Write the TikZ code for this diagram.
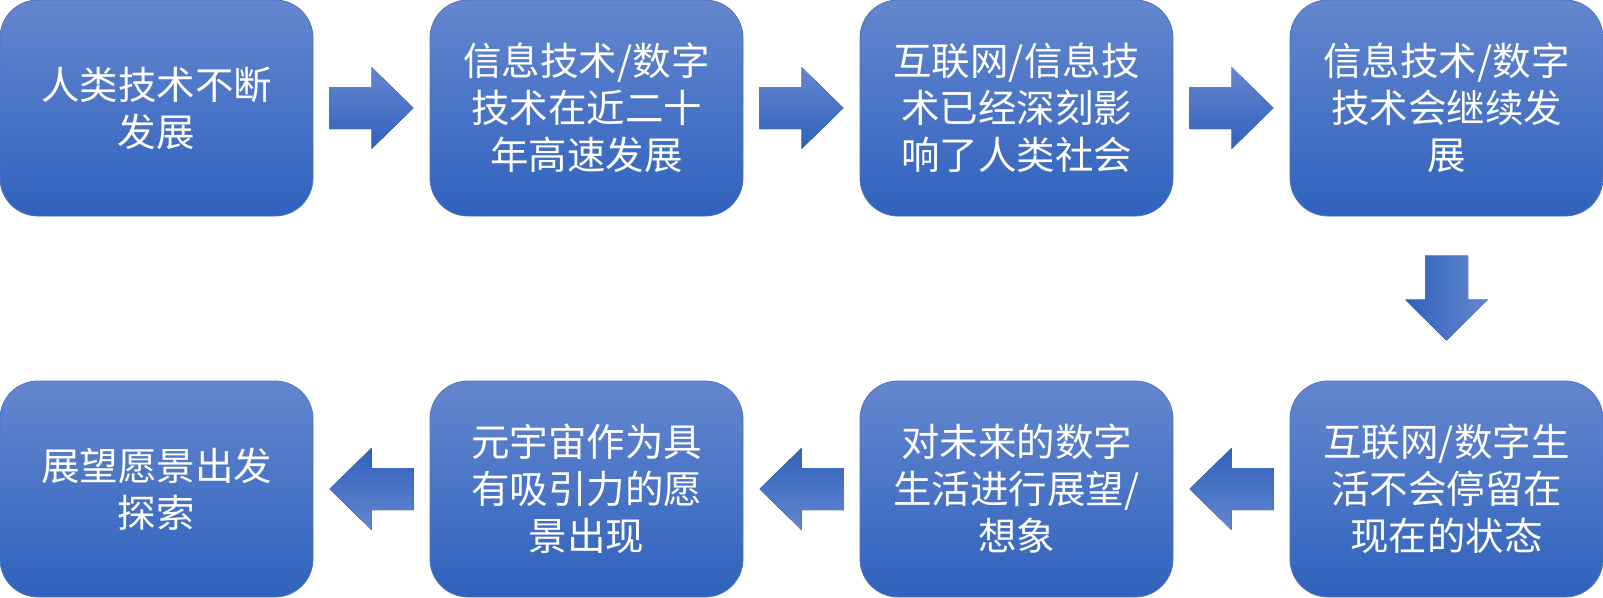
\documentclass[tikz,border=0pt]{standalone}
\usepackage{fontspec}
\newfontfamily\cjk{Noto Sans CJK SC}
\usetikzlibrary{calc}
\definecolor{boxtop}{RGB}{101,134,206}
\definecolor{boxbot}{RGB}{47,98,190}
\definecolor{boxedge}{RGB}{78,114,198}
\tikzset{
  stepbox/.style={rounded corners=38pt, minimum width=313pt, minimum height=216pt,
    inner sep=0pt, top color=boxtop, bottom color=boxbot, draw=boxedge, line width=0.8pt,
    text=white, align=center, font=\cjk\fontsize{38.5pt}{47pt}\selectfont},
  harrowfill/.style={top color=boxtop, bottom color=boxbot},
  larrowfill/.style={top color=boxbot, bottom color=boxtop},
  darrowfill/.style={left color=boxbot, right color=boxtop},
}
\begin{document}
\begin{tikzpicture}[x=1pt,y=-1pt]
\useasboundingbox (0,0) rectangle (1603,597);
\node[stepbox] (b1) at (156.5,108) {人类技术不断\\发展};
\node[stepbox] (b2) at (586.5,108) {信息技术/数字\\技术在近二十\\年高速发展};
\node[stepbox] (b3) at (1016.5,108) {互联网/信息技\\术已经深刻影\\响了人类社会};
\node[stepbox] (b4) at (1446.5,108) {信息技术/数字\\技术会继续发\\展};
\node[stepbox] (b5) at (1446.5,489) {互联网/数字生\\活不会停留在\\现在的状态};
\node[stepbox] (b6) at (1016.5,489) {对未来的数字\\生活进行展望/\\想象};
\node[stepbox] (b7) at (586.5,489) {元宇宙作为具\\有吸引力的愿\\景出现};
\node[stepbox] (b8) at (156.5,489) {展望愿景出发\\探索};
% right arrows
\foreach \a/\b in {b1/b2,b2/b3,b3/b4}{
  \coordinate (m) at ($(\a.east)!0.5!(\b.west)$);
  \begin{scope}[shift={(m)}]
    \fill[harrowfill] (-42,-21) -- (0,-21) -- (0,-41) -- (42,0) -- (0,41) -- (0,21) -- (-42,21) -- cycle;
  \end{scope}
}
% left arrows
\foreach \a/\b in {b5/b6,b6/b7,b7/b8}{
  \coordinate (m) at ($(\a.west)!0.5!(\b.east)$);
  \begin{scope}[shift={(m)}]
    \fill[larrowfill] (42,-21) -- (0,-21) -- (0,-41) -- (-42,0) -- (0,41) -- (0,21) -- (42,21) -- cycle;
  \end{scope}
}
% down arrow
\coordinate (md) at ($(b4.south)!0.5!(b5.north)$);
\begin{scope}[shift={(md)}]
  \fill[darrowfill] (-21.5,-43) -- (21.5,-43) -- (21.5,1) -- (41.5,1) -- (0,42) -- (-41.5,1) -- (-21.5,1) -- cycle;
\end{scope}
\end{tikzpicture}
\end{document}
